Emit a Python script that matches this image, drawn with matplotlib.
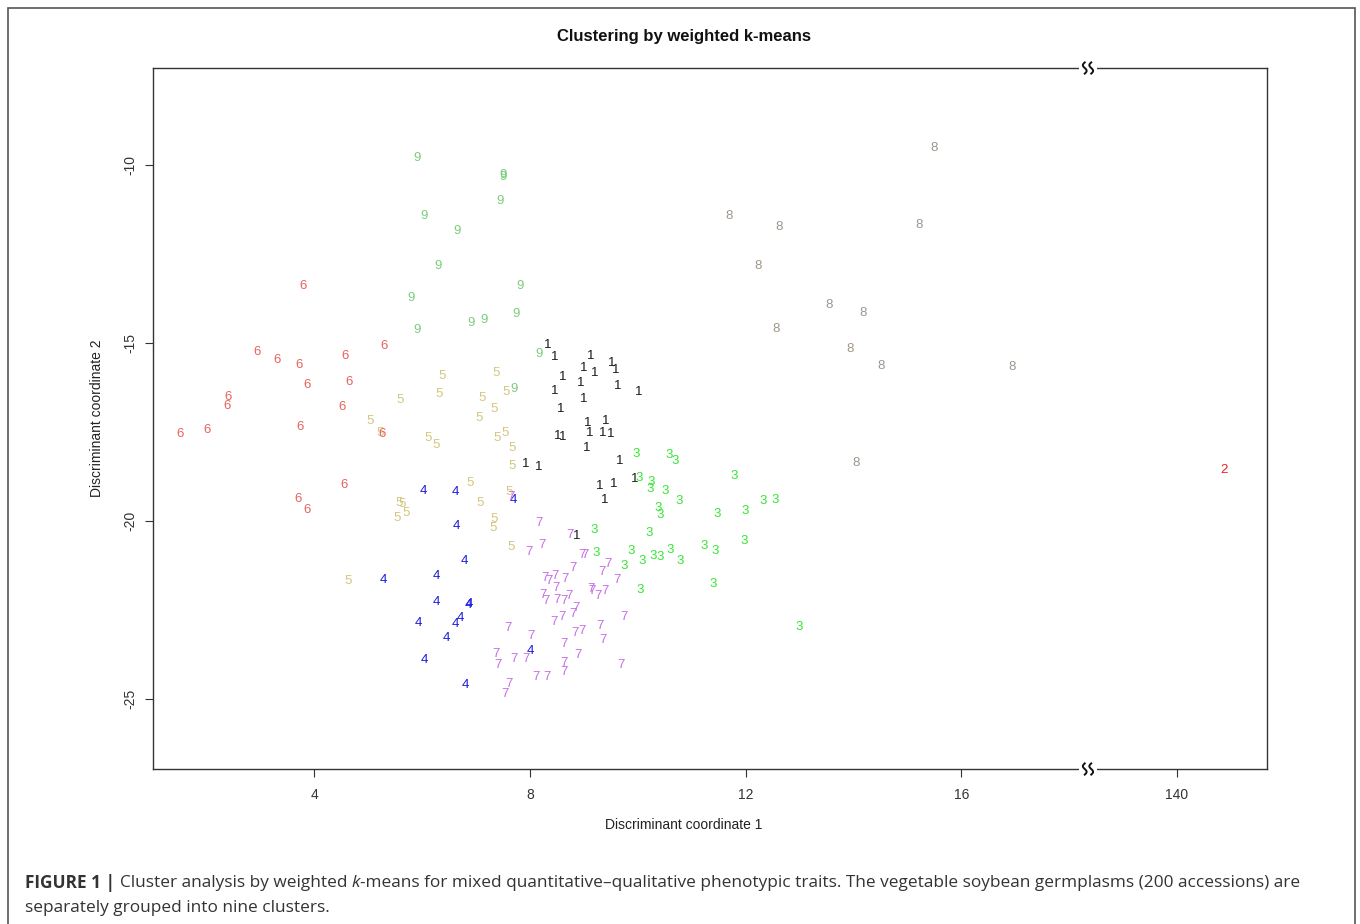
import numpy as np
import matplotlib
matplotlib.use("Agg")
import matplotlib.pyplot as plt
from matplotlib.patches import Rectangle

plt.rcParams['font.family'] = ['Liberation Sans', 'DejaVu Sans']

# discriminant coordinates per cluster
c1_x = [8.33, 8.46, 9.12, 8.99, 9.21, 9.51, 9.59, 8.61, 8.95, 9.63, 10.01, 8.46, 9.00, 8.58, 9.07,
        9.40, 9.11, 9.35, 9.49, 8.51, 8.61, 9.05, 9.66, 7.93, 8.16, 9.94, 9.30, 9.56, 9.38, 8.87]
c1_y = [-15.05, -15.40, -15.36, -15.71, -15.85, -15.58, -15.76, -15.97, -16.13, -16.20, -16.38, -16.35,
        -16.59, -16.87, -17.26, -17.19, -17.53, -17.53, -17.56, -17.62, -17.65, -17.95, -18.31, -18.40,
        -18.49, -18.82, -19.03, -18.97, -19.41, -20.42]

c2_x = [140.87]
c2_y = [-18.57]

c3_x = [9.97, 10.58, 10.70, 11.78, 10.03, 10.24, 10.23, 10.50, 10.77, 12.33, 12.55, 10.37, 10.42, 11.48,
        12.00, 10.21, 11.97, 9.88, 11.24, 11.44, 10.29, 10.42, 10.61, 10.09, 10.79, 9.74, 10.05, 11.40,
        12.99, 9.19, 9.23]
c3_y = [-18.12, -18.14, -18.32, -18.73, -18.81, -18.92, -19.11, -19.17, -19.43, -19.43, -19.41, -19.65,
        -19.83, -19.80, -19.71, -20.33, -20.56, -20.85, -20.71, -20.85, -20.99, -21.01, -20.83, -21.14,
        -21.14, -21.27, -21.93, -21.77, -22.97, -20.25, -20.89]

c4_x = [6.02, 6.61, 7.69, 6.63, 6.79, 5.28, 6.27, 6.27, 6.86, 6.87, 5.93, 6.71, 6.62, 6.46, 6.04, 6.81, 8.01]
c4_y = [-19.15, -19.19, -19.41, -20.14, -21.14, -21.65, -21.54, -22.28, -22.35, -22.33, -22.86, -22.73,
        -22.91, -23.30, -23.90, -24.60, -23.66]

c5_x = [6.38, 7.37, 5.60, 6.32, 7.11, 7.56, 7.34, 7.06, 5.04, 5.22, 6.12, 6.26, 7.39, 7.54, 7.67, 7.67,
        6.90, 7.61, 7.08, 5.58, 5.63, 5.71, 5.54, 7.34, 7.31, 7.65, 4.63]
c5_y = [-15.93, -15.85, -16.61, -16.43, -16.54, -16.37, -16.85, -17.10, -17.19, -17.54, -17.68, -17.87,
        -17.68, -17.52, -17.96, -18.46, -18.93, -19.18, -19.49, -19.49, -19.53, -19.77, -19.91, -19.95,
        -20.19, -20.74, -21.69]

c6_x = [3.79, 2.94, 3.31, 3.71, 4.58, 5.30, 3.87, 4.65, 2.40, 2.38, 4.51, 1.51, 2.01, 3.74, 5.25, 4.56,
        3.70, 3.86]
c6_y = [-13.39, -15.26, -15.49, -15.62, -15.36, -15.08, -16.18, -16.10, -16.53, -16.76, -16.80, -17.55,
        -17.44, -17.37, -17.55, -19.00, -19.39, -19.69]

c7_x = [8.17, 8.74, 8.22, 7.99, 8.97, 9.03, 8.80, 9.45, 9.34, 9.61, 8.28, 8.35, 8.46, 8.66, 8.49, 8.25,
        8.29, 8.51, 8.64, 8.73, 9.13, 9.15, 9.27, 9.40, 8.85, 8.80, 8.60, 8.44, 9.74, 7.59, 8.02, 8.83,
        8.96, 9.30, 9.35, 8.63, 7.38, 7.40, 7.70, 7.93, 8.89, 8.64, 8.63, 9.69, 8.12, 8.32, 7.62, 7.54, 7.65]
c7_y = [-20.05, -20.40, -20.69, -20.88, -20.97, -20.97, -21.32, -21.21, -21.45, -21.67, -21.60, -21.69,
        -21.56, -21.64, -21.90, -22.08, -22.24, -22.22, -22.25, -22.10, -21.92, -21.97, -22.10, -21.97,
        -22.44, -22.61, -22.69, -22.84, -22.71, -23.01, -23.23, -23.14, -23.09, -22.94, -23.35, -23.47,
        -23.73, -24.04, -23.87, -23.89, -23.78, -23.98, -24.24, -24.06, -24.39, -24.39, -24.59, -24.87,
        -19.32]

c8_x = [15.49, 11.69, 12.63, 15.22, 12.24, 13.55, 14.18, 12.56, 13.94, 14.52, 16.95, 14.05]
c8_y = [-9.53, -11.44, -11.76, -11.69, -12.84, -13.95, -14.15, -14.62, -15.18, -15.65, -15.69, -18.38]

c9_x = [5.91, 7.51, 7.51, 7.45, 6.03, 6.65, 6.29, 7.81, 5.79, 7.75, 7.15, 6.90, 5.91, 8.17, 7.70]
c9_y = [-9.80, -10.29, -10.34, -11.01, -11.44, -11.85, -12.85, -13.39, -13.74, -14.19, -14.36, -14.45,
        -14.65, -15.32, -16.29]

clusters = [c1_x, c2_x, c3_x, c4_x, c5_x, c6_x, c7_x, c8_x, c9_x]
clusters_y = [c1_y, c2_y, c3_y, c4_y, c5_y, c6_y, c7_y, c8_y, c9_y]
colors = ['#1a1a1a', '#ee1c25', '#33e833', '#1c1cdc', '#d4c67c',
          '#e8625c', '#c86ce8', '#9e968c', '#7ccc7c']

x_ticks = [4, 8, 12, 16, 140]
y_ticks = [-10, -15, -20, -25]

# broken x axis: values beyond the gap are shifted so that 140 sits at 20
gap_start = 18.35
shift = 140 - 20


def to_axis(x):
    x = np.asarray(x, dtype=float)
    return np.where(x > 100, x - shift, x)


fig = plt.figure(figsize=(13.6, 9.24), dpi=100)
ax = fig.add_axes([153 / 1360, 1 - 769 / 924, (1267 - 153) / 1360, (769 - 68) / 924])

for k in range(9):
    xs = to_axis(clusters[k])
    for xv, yv in zip(xs, clusters_y[k]):
        ax.text(xv, yv, str(k + 1), color=colors[k], fontsize=9.5,
                ha='center', va='center')

ax.set_xlim(1.01, 21.67)
ax.set_ylim(-26.97, -7.28)

ax.set_xticks(to_axis(x_ticks))
ax.set_xticklabels([str(t) for t in x_ticks])
ax.set_yticks(y_ticks)
ax.set_yticklabels([str(t) for t in y_ticks], rotation=90, va='center')
ax.tick_params(direction='out', length=6, width=0.8, labelsize=10, pad=8, colors='#333333')
ax.tick_params(axis='y', pad=5)
for s in ax.spines.values():
    s.set_color('#333333')
    s.set_linewidth(1.0)

# break marks on top and bottom spine
for yb in (0.0, 1.0):
    ax.add_patch(Rectangle((gap_start - 0.17, yb - 0.004), 0.34, 0.008,
                           transform=ax.get_xaxis_transform(), facecolor='white',
                           edgecolor='none', clip_on=False, zorder=5))
    t = np.linspace(0, 1, 30)
    for dx in (-0.06, 0.06):
        xx = gap_start + dx + 0.035 * np.sin(2 * np.pi * t)
        yy = yb - 0.008 + 0.016 * t
        ax.plot(xx, yy, color='#111111', lw=1.4, transform=ax.get_xaxis_transform(),
                clip_on=False, zorder=6)

fig.text(684 / 1360, 1 - 36 / 924, 'Clustering by weighted k-means', ha='center', va='center',
         fontsize=12, fontweight='bold', color='#111111')
fig.text(684 / 1360, 1 - 825 / 924, 'Discriminant coordinate 1', ha='center', va='center',
         fontsize=10, color='#222222')
fig.text(97 / 1360, 1 - 418 / 924, 'Discriminant coordinate 2', ha='center', va='center',
         fontsize=10, rotation=90, color='#222222')

# outer frame of the figure panel
fig.patches.append(Rectangle((8 / 1360, -0.05), (1355 - 8) / 1360, 1.05 - 8 / 924,
                             transform=fig.transFigure, fill=False, edgecolor='#555555',
                             linewidth=1.2))

# caption, written piece by piece
renderer = fig.canvas.get_renderer()
cap_font = ['Open Sans', 'DejaVu Sans']
line1 = [('FIGURE 1 | ', 'bold', 'normal'),
         ('Cluster analysis by weighted ', 'normal', 'normal'),
         ('k', 'normal', 'italic'),
         ('-means for mixed quantitative\u2013qualitative phenotypic traits. The vegetable soybean '
          'germplasms (200 accessions) are', 'normal', 'normal')]
x0 = 25 / 1360
for txt, w, st in line1:
    tt = fig.text(x0, 1 - 883 / 924, txt, ha='left', va='center', fontsize=12.45,
                  fontweight=w, fontstyle=st, family=cap_font, color='#333333')
    bb = tt.get_window_extent(renderer)
    x0 += bb.width / 1360
fig.text(25 / 1360, 1 - 908 / 924, 'separately grouped into nine clusters.', ha='left', va='center',
         fontsize=12.45, family=cap_font, color='#333333')

fig.savefig('out.png', dpi=100)
